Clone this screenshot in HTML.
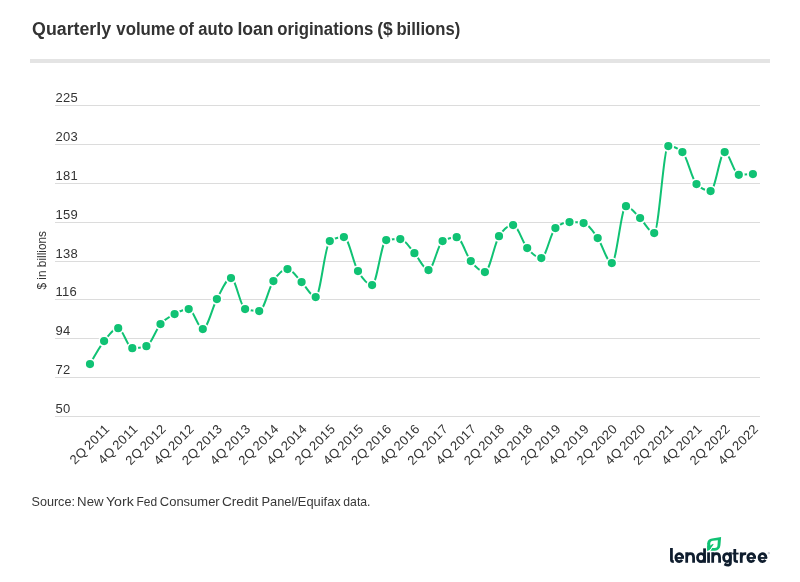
<!DOCTYPE html>
<html><head><meta charset="utf-8"><title>Quarterly volume of auto loan originations</title>
<style>
html,body{margin:0;padding:0;background:#fff;}
body{width:800px;height:582px;overflow:hidden;position:relative;font-family:"Liberation Sans",sans-serif;}
svg{position:absolute;left:0;top:0;will-change:transform;}
text{font-family:"Liberation Sans",sans-serif;}
</style></head><body>
<svg width="800" height="582" viewBox="0 0 800 582">
<rect x="0" y="0" width="800" height="582" fill="#ffffff"/>
<text x="32.1" y="35" font-size="18" font-weight="bold" fill="#333333" textLength="79.0" lengthAdjust="spacingAndGlyphs">Quarterly</text>
<text x="116.3" y="35" font-size="18" font-weight="bold" fill="#333333" textLength="58.9" lengthAdjust="spacingAndGlyphs">volume</text>
<text x="178.7" y="35" font-size="18" font-weight="bold" fill="#333333" textLength="15.2" lengthAdjust="spacingAndGlyphs">of</text>
<text x="198.3" y="35" font-size="18" font-weight="bold" fill="#333333" textLength="35.0" lengthAdjust="spacingAndGlyphs">auto</text>
<text x="237.4" y="35" font-size="18" font-weight="bold" fill="#333333" textLength="36.2" lengthAdjust="spacingAndGlyphs">loan</text>
<text x="277.3" y="35" font-size="18" font-weight="bold" fill="#333333" textLength="95.9" lengthAdjust="spacingAndGlyphs">originations</text>
<text x="377.2" y="35" font-size="18" font-weight="bold" fill="#333333" textLength="15.5" lengthAdjust="spacingAndGlyphs">($</text>
<text x="396.4" y="35" font-size="18" font-weight="bold" fill="#333333" textLength="63.8" lengthAdjust="spacingAndGlyphs">billions)</text>
<rect x="30" y="59" width="740" height="4" fill="#e4e4e4"/>
<rect x="55" y="105" width="705" height="1" fill="#dcdcdc"/>
<text x="55.4" y="101.8" font-size="13" fill="#333333" letter-spacing="0.3">225</text>
<rect x="55" y="144" width="705" height="1" fill="#dcdcdc"/>
<text x="55.4" y="140.8" font-size="13" fill="#333333" letter-spacing="0.3">203</text>
<rect x="55" y="183" width="705" height="1" fill="#dcdcdc"/>
<text x="55.4" y="179.8" font-size="13" fill="#333333" letter-spacing="0.3">181</text>
<rect x="55" y="222" width="705" height="1" fill="#dcdcdc"/>
<text x="55.4" y="218.8" font-size="13" fill="#333333" letter-spacing="0.3">159</text>
<rect x="55" y="261" width="705" height="1" fill="#dcdcdc"/>
<text x="55.4" y="257.8" font-size="13" fill="#333333" letter-spacing="0.3">138</text>
<rect x="55" y="299" width="705" height="1" fill="#dcdcdc"/>
<text x="55.4" y="295.8" font-size="13" fill="#333333" letter-spacing="0.3">116</text>
<rect x="55" y="338" width="705" height="1" fill="#dcdcdc"/>
<text x="55.4" y="334.8" font-size="13" fill="#333333" letter-spacing="0.3">94</text>
<rect x="55" y="377" width="705" height="1" fill="#dcdcdc"/>
<text x="55.4" y="373.8" font-size="13" fill="#333333" letter-spacing="0.3">72</text>
<rect x="55" y="416" width="705" height="1" fill="#dcdcdc"/>
<text x="55.4" y="412.8" font-size="13" fill="#333333" letter-spacing="0.3">50</text>
<text transform="translate(46,260.3) rotate(-90)" text-anchor="middle" font-size="11.85" fill="#333333">$ in billions</text>
<path d="M90.00,364.05 C94.70,355.53 99.40,347.02 104.10,341.05 C108.81,335.08 113.51,328.25 118.21,328.25 C122.91,328.25 127.61,348.25 132.31,348.25 C137.01,348.25 141.71,347.58 146.42,346.25 C151.12,344.92 155.82,329.42 160.52,324.05 C165.22,318.68 169.92,316.55 174.62,314.05 C179.33,311.55 184.03,309.05 188.73,309.05 C193.43,309.05 198.13,329.05 202.83,329.05 C207.53,329.05 212.23,307.55 216.94,299.05 C221.64,290.55 226.34,278.05 231.04,278.05 C235.74,278.05 240.44,307.72 245.14,309.05 C249.85,310.38 254.55,311.05 259.25,311.05 C263.95,311.05 268.65,288.05 273.35,281.05 C278.05,274.05 282.75,269.05 287.46,269.05 C292.16,269.05 296.86,277.38 301.56,282.05 C306.26,286.72 310.96,297.05 315.66,297.05 C320.37,297.05 325.07,243.72 329.77,241.05 C334.47,238.38 339.17,237.05 343.87,237.05 C348.57,237.05 353.27,263.05 357.98,271.05 C362.68,279.05 367.38,285.05 372.08,285.05 C376.78,285.05 381.48,240.72 386.18,240.05 C390.89,239.38 395.59,239.05 400.29,239.05 C404.99,239.05 409.69,247.88 414.39,253.05 C419.09,258.22 423.79,270.05 428.50,270.05 C433.20,270.05 437.90,243.58 442.60,241.05 C447.30,238.52 452.00,237.25 456.70,237.25 C461.41,237.25 466.11,255.25 470.81,261.05 C475.51,266.85 480.21,272.05 484.91,272.05 C489.61,272.05 494.31,243.72 499.02,236.25 C503.72,228.78 508.42,225.05 513.12,225.05 C517.82,225.05 522.52,242.55 527.22,248.05 C531.93,253.55 536.63,258.05 541.33,258.05 C546.03,258.05 550.73,232.05 555.43,228.05 C560.13,224.05 564.83,222.05 569.54,222.05 C574.24,222.05 578.94,222.38 583.64,223.05 C588.34,223.72 593.04,231.38 597.74,238.05 C602.45,244.72 607.15,263.05 611.85,263.05 C616.55,263.05 621.25,206.25 625.95,206.25 C630.65,206.25 635.35,213.58 640.06,218.05 C644.76,222.52 649.46,233.05 654.16,233.05 C658.86,233.05 663.56,146.05 668.26,146.05 C672.97,146.05 677.67,148.05 682.37,152.05 C687.07,156.05 691.77,179.38 696.47,184.05 C701.17,188.72 705.87,191.05 710.58,191.05 C715.28,191.05 719.98,152.05 724.68,152.05 C729.38,152.05 734.08,174.85 738.78,174.85 C743.49,174.85 748.19,174.45 752.89,174.05" fill="none" stroke="#10c274" stroke-width="2" stroke-linejoin="round" stroke-linecap="round"/>
<circle cx="90.0" cy="364.1" r="5.0" fill="#10c274" stroke="#ffffff" stroke-width="1.8"/>
<circle cx="104.1" cy="341.1" r="5.0" fill="#10c274" stroke="#ffffff" stroke-width="1.8"/>
<circle cx="118.2" cy="328.2" r="5.0" fill="#10c274" stroke="#ffffff" stroke-width="1.8"/>
<circle cx="132.3" cy="348.2" r="5.0" fill="#10c274" stroke="#ffffff" stroke-width="1.8"/>
<circle cx="146.4" cy="346.2" r="5.0" fill="#10c274" stroke="#ffffff" stroke-width="1.8"/>
<circle cx="160.5" cy="324.1" r="5.0" fill="#10c274" stroke="#ffffff" stroke-width="1.8"/>
<circle cx="174.6" cy="314.1" r="5.0" fill="#10c274" stroke="#ffffff" stroke-width="1.8"/>
<circle cx="188.7" cy="309.1" r="5.0" fill="#10c274" stroke="#ffffff" stroke-width="1.8"/>
<circle cx="202.8" cy="329.1" r="5.0" fill="#10c274" stroke="#ffffff" stroke-width="1.8"/>
<circle cx="216.9" cy="299.1" r="5.0" fill="#10c274" stroke="#ffffff" stroke-width="1.8"/>
<circle cx="231.0" cy="278.1" r="5.0" fill="#10c274" stroke="#ffffff" stroke-width="1.8"/>
<circle cx="245.1" cy="309.1" r="5.0" fill="#10c274" stroke="#ffffff" stroke-width="1.8"/>
<circle cx="259.2" cy="311.1" r="5.0" fill="#10c274" stroke="#ffffff" stroke-width="1.8"/>
<circle cx="273.4" cy="281.1" r="5.0" fill="#10c274" stroke="#ffffff" stroke-width="1.8"/>
<circle cx="287.5" cy="269.1" r="5.0" fill="#10c274" stroke="#ffffff" stroke-width="1.8"/>
<circle cx="301.6" cy="282.1" r="5.0" fill="#10c274" stroke="#ffffff" stroke-width="1.8"/>
<circle cx="315.7" cy="297.1" r="5.0" fill="#10c274" stroke="#ffffff" stroke-width="1.8"/>
<circle cx="329.8" cy="241.1" r="5.0" fill="#10c274" stroke="#ffffff" stroke-width="1.8"/>
<circle cx="343.9" cy="237.1" r="5.0" fill="#10c274" stroke="#ffffff" stroke-width="1.8"/>
<circle cx="358.0" cy="271.1" r="5.0" fill="#10c274" stroke="#ffffff" stroke-width="1.8"/>
<circle cx="372.1" cy="285.1" r="5.0" fill="#10c274" stroke="#ffffff" stroke-width="1.8"/>
<circle cx="386.2" cy="240.1" r="5.0" fill="#10c274" stroke="#ffffff" stroke-width="1.8"/>
<circle cx="400.3" cy="239.1" r="5.0" fill="#10c274" stroke="#ffffff" stroke-width="1.8"/>
<circle cx="414.4" cy="253.1" r="5.0" fill="#10c274" stroke="#ffffff" stroke-width="1.8"/>
<circle cx="428.5" cy="270.1" r="5.0" fill="#10c274" stroke="#ffffff" stroke-width="1.8"/>
<circle cx="442.6" cy="241.1" r="5.0" fill="#10c274" stroke="#ffffff" stroke-width="1.8"/>
<circle cx="456.7" cy="237.2" r="5.0" fill="#10c274" stroke="#ffffff" stroke-width="1.8"/>
<circle cx="470.8" cy="261.1" r="5.0" fill="#10c274" stroke="#ffffff" stroke-width="1.8"/>
<circle cx="484.9" cy="272.1" r="5.0" fill="#10c274" stroke="#ffffff" stroke-width="1.8"/>
<circle cx="499.0" cy="236.2" r="5.0" fill="#10c274" stroke="#ffffff" stroke-width="1.8"/>
<circle cx="513.1" cy="225.1" r="5.0" fill="#10c274" stroke="#ffffff" stroke-width="1.8"/>
<circle cx="527.2" cy="248.1" r="5.0" fill="#10c274" stroke="#ffffff" stroke-width="1.8"/>
<circle cx="541.3" cy="258.1" r="5.0" fill="#10c274" stroke="#ffffff" stroke-width="1.8"/>
<circle cx="555.4" cy="228.1" r="5.0" fill="#10c274" stroke="#ffffff" stroke-width="1.8"/>
<circle cx="569.5" cy="222.1" r="5.0" fill="#10c274" stroke="#ffffff" stroke-width="1.8"/>
<circle cx="583.6" cy="223.1" r="5.0" fill="#10c274" stroke="#ffffff" stroke-width="1.8"/>
<circle cx="597.7" cy="238.1" r="5.0" fill="#10c274" stroke="#ffffff" stroke-width="1.8"/>
<circle cx="611.8" cy="263.1" r="5.0" fill="#10c274" stroke="#ffffff" stroke-width="1.8"/>
<circle cx="626.0" cy="206.2" r="5.0" fill="#10c274" stroke="#ffffff" stroke-width="1.8"/>
<circle cx="640.1" cy="218.1" r="5.0" fill="#10c274" stroke="#ffffff" stroke-width="1.8"/>
<circle cx="654.2" cy="233.1" r="5.0" fill="#10c274" stroke="#ffffff" stroke-width="1.8"/>
<circle cx="668.3" cy="146.1" r="5.0" fill="#10c274" stroke="#ffffff" stroke-width="1.8"/>
<circle cx="682.4" cy="152.1" r="5.0" fill="#10c274" stroke="#ffffff" stroke-width="1.8"/>
<circle cx="696.5" cy="184.1" r="5.0" fill="#10c274" stroke="#ffffff" stroke-width="1.8"/>
<circle cx="710.6" cy="191.1" r="5.0" fill="#10c274" stroke="#ffffff" stroke-width="1.8"/>
<circle cx="724.7" cy="152.1" r="5.0" fill="#10c274" stroke="#ffffff" stroke-width="1.8"/>
<circle cx="738.8" cy="174.8" r="5.0" fill="#10c274" stroke="#ffffff" stroke-width="1.8"/>
<circle cx="752.9" cy="174.1" r="5.0" fill="#10c274" stroke="#ffffff" stroke-width="1.8"/>
<text transform="translate(110.4,429.7) rotate(-45)" text-anchor="end" font-size="13" fill="#333333" letter-spacing="0.4" word-spacing="-1.7">2Q 2011</text>
<text transform="translate(138.6,429.7) rotate(-45)" text-anchor="end" font-size="13" fill="#333333" letter-spacing="0.4" word-spacing="-1.7">4Q 2011</text>
<text transform="translate(166.8,429.7) rotate(-45)" text-anchor="end" font-size="13" fill="#333333" letter-spacing="0.4" word-spacing="-1.7">2Q 2012</text>
<text transform="translate(195.0,429.7) rotate(-45)" text-anchor="end" font-size="13" fill="#333333" letter-spacing="0.4" word-spacing="-1.7">4Q 2012</text>
<text transform="translate(223.2,429.7) rotate(-45)" text-anchor="end" font-size="13" fill="#333333" letter-spacing="0.4" word-spacing="-1.7">2Q 2013</text>
<text transform="translate(251.4,429.7) rotate(-45)" text-anchor="end" font-size="13" fill="#333333" letter-spacing="0.4" word-spacing="-1.7">4Q 2013</text>
<text transform="translate(279.7,429.7) rotate(-45)" text-anchor="end" font-size="13" fill="#333333" letter-spacing="0.4" word-spacing="-1.7">2Q 2014</text>
<text transform="translate(307.9,429.7) rotate(-45)" text-anchor="end" font-size="13" fill="#333333" letter-spacing="0.4" word-spacing="-1.7">4Q 2014</text>
<text transform="translate(336.1,429.7) rotate(-45)" text-anchor="end" font-size="13" fill="#333333" letter-spacing="0.4" word-spacing="-1.7">2Q 2015</text>
<text transform="translate(364.3,429.7) rotate(-45)" text-anchor="end" font-size="13" fill="#333333" letter-spacing="0.4" word-spacing="-1.7">4Q 2015</text>
<text transform="translate(392.5,429.7) rotate(-45)" text-anchor="end" font-size="13" fill="#333333" letter-spacing="0.4" word-spacing="-1.7">2Q 2016</text>
<text transform="translate(420.7,429.7) rotate(-45)" text-anchor="end" font-size="13" fill="#333333" letter-spacing="0.4" word-spacing="-1.7">4Q 2016</text>
<text transform="translate(448.9,429.7) rotate(-45)" text-anchor="end" font-size="13" fill="#333333" letter-spacing="0.4" word-spacing="-1.7">2Q 2017</text>
<text transform="translate(477.1,429.7) rotate(-45)" text-anchor="end" font-size="13" fill="#333333" letter-spacing="0.4" word-spacing="-1.7">4Q 2017</text>
<text transform="translate(505.3,429.7) rotate(-45)" text-anchor="end" font-size="13" fill="#333333" letter-spacing="0.4" word-spacing="-1.7">2Q 2018</text>
<text transform="translate(533.5,429.7) rotate(-45)" text-anchor="end" font-size="13" fill="#333333" letter-spacing="0.4" word-spacing="-1.7">4Q 2018</text>
<text transform="translate(561.7,429.7) rotate(-45)" text-anchor="end" font-size="13" fill="#333333" letter-spacing="0.4" word-spacing="-1.7">2Q 2019</text>
<text transform="translate(589.9,429.7) rotate(-45)" text-anchor="end" font-size="13" fill="#333333" letter-spacing="0.4" word-spacing="-1.7">4Q 2019</text>
<text transform="translate(618.1,429.7) rotate(-45)" text-anchor="end" font-size="13" fill="#333333" letter-spacing="0.4" word-spacing="-1.7">2Q 2020</text>
<text transform="translate(646.4,429.7) rotate(-45)" text-anchor="end" font-size="13" fill="#333333" letter-spacing="0.4" word-spacing="-1.7">4Q 2020</text>
<text transform="translate(674.6,429.7) rotate(-45)" text-anchor="end" font-size="13" fill="#333333" letter-spacing="0.4" word-spacing="-1.7">2Q 2021</text>
<text transform="translate(702.8,429.7) rotate(-45)" text-anchor="end" font-size="13" fill="#333333" letter-spacing="0.4" word-spacing="-1.7">4Q 2021</text>
<text transform="translate(731.0,429.7) rotate(-45)" text-anchor="end" font-size="13" fill="#333333" letter-spacing="0.4" word-spacing="-1.7">2Q 2022</text>
<text transform="translate(759.2,429.7) rotate(-45)" text-anchor="end" font-size="13" fill="#333333" letter-spacing="0.4" word-spacing="-1.7">4Q 2022</text>
<text x="31.5" y="506" font-size="13" fill="#383838" textLength="43.4" lengthAdjust="spacingAndGlyphs">Source:</text>
<text x="77.1" y="506" font-size="13" fill="#383838" textLength="26.5" lengthAdjust="spacingAndGlyphs">New</text>
<text x="105.9" y="506" font-size="13" fill="#383838" textLength="27.9" lengthAdjust="spacingAndGlyphs">York</text>
<text x="136.5" y="506" font-size="13" fill="#383838" textLength="20.6" lengthAdjust="spacingAndGlyphs">Fed</text>
<text x="159.8" y="506" font-size="13" fill="#383838" textLength="59.9" lengthAdjust="spacingAndGlyphs">Consumer</text>
<text x="221.9" y="506" font-size="13" fill="#383838" textLength="36.5" lengthAdjust="spacingAndGlyphs">Credit</text>
<text x="261.4" y="506" font-size="13" fill="#383838" textLength="79.4" lengthAdjust="spacingAndGlyphs">Panel/Equifax</text>
<text x="343.3" y="506" font-size="13" fill="#383838" textLength="27.2" lengthAdjust="spacingAndGlyphs">data.</text>
<g fill="none" stroke="#0f1d2e" stroke-width="2.75" stroke-linecap="butt" stroke-linejoin="round">
<path d="M671.43,548.05 V560.05 Q671.43,561.58 673.8,561.58"/>
<path d="M682.62,557.98 A3.42,4.05 0 1 0 682.07,559.83"/>
<path d="M686.70,552.35 V562.85 M686.70,557.18 C686.70,554.78 688.10,553.58 690.45,553.58 C692.60,553.58 693.60,554.88 693.60,557.38 V562.85"/>
<path d="M704.55,548.3499999999999 V562.85"/>
<path d="M704.55,557.62 A3.5,4.05 0 1 0 697.5,557.62 A3.5,4.05 0 1 0 704.55,557.62"/>
<path d="M708.55,552.35 V562.85"/>
<path d="M712.70,552.35 V562.85 M712.70,557.18 C712.70,554.78 714.10,553.58 716.45,553.58 C718.60,553.58 719.60,554.88 719.60,557.38 V562.85"/>
<path d="M730.4,552.35 V563.05 C730.4,565.42 727.6,565.73 724.4,564.02"/>
<path d="M730.4,557.62 A3.4,4.05 0 1 0 723.6,557.62 A3.4,4.05 0 1 0 730.4,557.62"/>
<path d="M734.8,549 V559.65 Q734.8,561.58 737.9,561.58"/>
<path d="M741.25,552.35 V562.85"/>
<path d="M741.25,557.38 C741.25,554.78 742.9,553.48 746.2,553.58"/>
<path d="M754.62,557.98 A3.42,4.05 0 1 0 754.07,559.83"/>
<path d="M765.92,557.98 A3.42,4.05 0 1 0 765.37,559.83"/>
</g>
<g fill="none" stroke="#0f1d2e" stroke-width="1.8" stroke-linecap="butt">
<path d="M675.78,557.98 H683.90"/>
<path d="M732.3,553.55 H738.6"/>
<path d="M747.78,557.98 H755.90"/>
<path d="M759.08,557.98 H767.20"/>
</g>
<circle cx="768.8" cy="553.1" r="0.8" fill="none" stroke="#8d96a0" stroke-width="0.5"/>
<path d="M707.25,550.7 L707.2,543.3 C707.3,540.3 709.2,538.9 712,538.4 L721.1,537 L720.45,545 C720.1,548.6 718.3,550.5 715,550.7 Z" fill="#10c274"/>
<path d="M710.3,547.95 L710.3,543.6 C710.3,541.6 711.5,540.95 713,540.75 L717.85,540.2 L717.5,545.5 C717.3,547.3 716.3,547.95 714.8,547.95 Z" fill="#ffffff"/>
<path d="M707.7,551.1 L709.9,549.5 L711.3,547.5 L712.1,548.2 L710.35,551.1 Z" fill="#ffffff"/>
<path d="M707.25,550.8 L707.25,546 L710.3,545.4 L713.1,543.75 L713.55,544.5 L709.9,549.4 Z" fill="#10c274"/>
</svg>
</body></html>
